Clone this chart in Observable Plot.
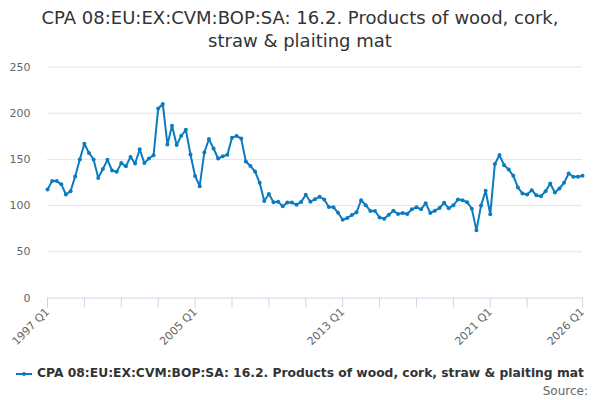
<!DOCTYPE html>
<html><head><meta charset="utf-8">
<script src="https://cdn.jsdelivr.net/npm/d3@7"></script>
<script src="https://cdn.jsdelivr.net/npm/@observablehq/plot@0.6"></script>
<style>
body{margin:0;width:600px;height:400px;overflow:hidden;font-family:"DejaVu Sans",sans-serif;background:#fff;position:relative}
#title{height:56px;text-align:center;font-size:18px;color:#333;line-height:23px;padding-top:6px;box-sizing:border-box}
#chart{position:absolute;top:56px;left:0}
#legend{position:absolute;top:366px;left:0;width:600px;text-align:center;font-size:12.3px;font-weight:bold;color:#333;white-space:nowrap}
#legend svg{vertical-align:middle;margin-right:5px}
#source{position:absolute;top:384px;right:12px;font-size:12px;color:#666}
</style></head><body>
<div id="title">CPA 08:EU:EX:CVM:BOP:SA: 16.2. Products of wood, cork,<br>straw &amp; plaiting mat</div>
<div id="chart"></div>
<div id="legend"></div>
<div id="source">Source:</div>
<script>
const seriesName = "CPA 08:EU:EX:CVM:BOP:SA: 16.2. Products of wood, cork, straw & plaiting mat";
const startYear = 1997;
const values = [
  117.5,126.5,126.5,123,112,115.6,131.6,149.8,167,157,150,130,139.6,149.5,138,136.5,
  146,142.5,152.7,145.5,161,146,151,154.5,205,210,166,186.5,165.5,175.6,182,155.3,
  132,121,157.5,172,161.8,151,153.3,155,173.5,175.4,172.5,147.8,142.8,137,124.6,105,
  112.5,103.6,104.3,99.3,103.3,103.3,101,104,111.8,104.2,107,109.5,106.6,98.5,98.2,92.3,
  84.7,86.5,89.8,92.7,105.8,100.4,94.2,94.2,87.2,85.8,90.1,94.5,90.9,92,90.9,96,
  98.2,96,102.6,92,94.5,97.4,103,97,100.3,106.6,105.8,103.6,96.7,73.2,100,116,
  90.6,145,154.7,143.8,139,132.2,119.6,113,112,116.7,111.2,110.1,115.6,123.9,114.1,118.5,
  124.6,134.8,131.2,131.2,132.2
];
const yTicks = [0,50,100,150,200,250];
const xTickYears = [1997,1999,2001,2003,2005,2007,2009,2011,2013,2015,2017,2019,2021,2023,2026];
const xLabelYears = [1997,2005,2013,2021,2026];
const color = "#0b7bc1";

const data = values.map((v,i) => ({t: startYear + i/4, v}));

const chart = Plot.plot({
  width: 600, height: 300,
  marginLeft: 47, marginRight: 18, marginTop: 10.5, marginBottom: 58.5,
  style: {fontFamily: "DejaVu Sans", fontSize: "11px", background: "#fff"},
  x: {type: "linear", domain: [1997, 2026]},
  y: {domain: [0, 250]},
  marks: [
    Plot.ruleY([50,100,150,200,250], {stroke: "#e6e6e6"}),
    Plot.ruleY([0], {stroke: "#ccd6eb"}),
    Plot.axisY({ticks: yTicks, tickSize: 0, tickPadding: 17, fill: "#666", label: null, fontSize: 11}),
    Plot.axisX({ticks: xTickYears, tickSize: 10, tickFormat: () => "", stroke: "#ccd6eb", strokeOpacity: 1, label: null}),
    Plot.axisX({ticks: xLabelYears, tickSize: 0, tickPadding: 12, tickRotate: -45, tickFormat: d => `${d} Q1`, fill: "#666", label: null, fontSize: 11}),
    Plot.line(data, {x: "t", y: "v", stroke: color, strokeWidth: 2}),
    Plot.dot(data, {x: "t", y: "v", r: 2, fill: color})
  ]
});
document.getElementById("chart").appendChild(chart);

document.getElementById("legend").innerHTML =
  `<svg width="16" height="12"><line x1="0" x2="16" y1="6" y2="6" stroke="${color}" stroke-width="2"/><circle cx="8" cy="6" r="2" fill="${color}"/></svg>` +
  seriesName.replace(/&/g, "&amp;");
</script>
</body></html>
